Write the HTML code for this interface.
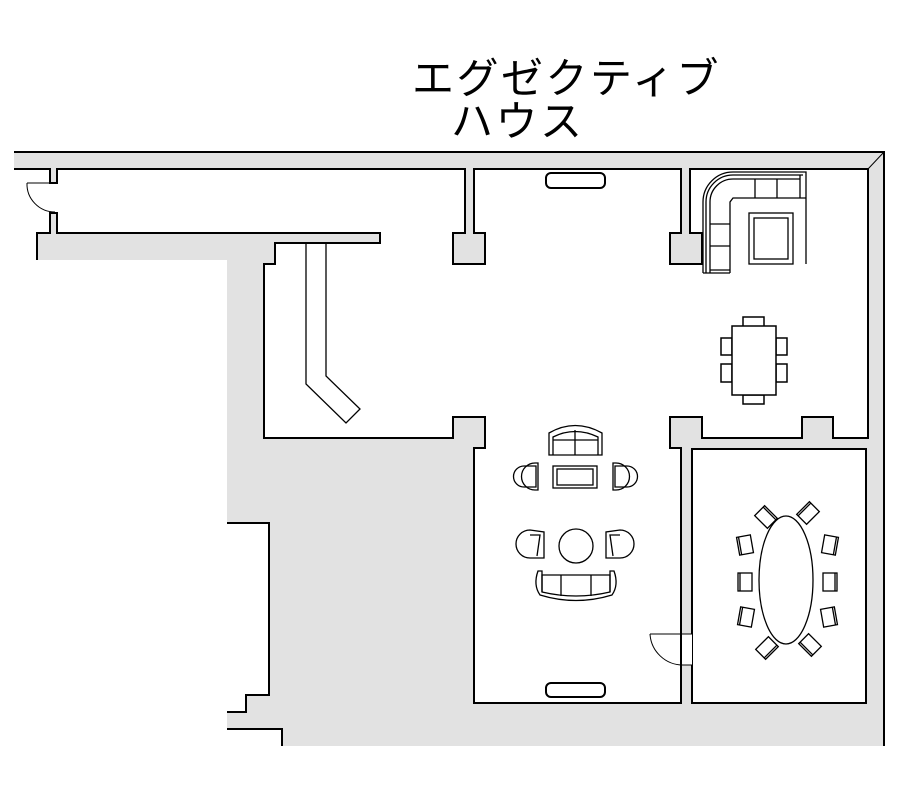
<!DOCTYPE html>
<html><head><meta charset="utf-8"><style>
html,body{margin:0;padding:0;background:#fff;}
svg{display:block;}
</style></head><body>
<svg width="900" height="800" viewBox="0 0 900 800" xmlns="http://www.w3.org/2000/svg">
<text x="412" y="93" font-family="'Liberation Sans','Noto Sans CJK JP',sans-serif" font-size="42" letter-spacing="2.5" fill="#000">エグゼクティブ</text>
<text x="451" y="136" font-family="'Liberation Sans','Noto Sans CJK JP',sans-serif" font-size="42" letter-spacing="2.5" fill="#000">ハウス</text>

<!-- gray building -->
<polygon points="14,152 884,152 884,746 282,746 282,729 227,729 227,260 37,260 37,233 50,233 50,169 14,169" fill="#e2e2e2"/>
<g fill="none" stroke="#000" stroke-width="2">
<polyline points="14,152 884,152 884,746"/>
<line x1="868" y1="169" x2="884" y2="152" stroke-width="1"/>
<polyline points="227,729 282,729 282,746"/>
<polyline points="14,169 50,169 50,183 57,183"/>
<polyline points="57,213 50,213 50,233 37,233 37,260"/>
</g>
<!-- inlet -->
<polygon points="227,523 269,523 269,695 246,695 246,712 227,712" fill="#fff" stroke="none"/>
<polyline points="227,523 269,523 269,695 246,695 246,712 227,712" fill="none" stroke="#000" stroke-width="2"/>

<!-- main space -->
<polygon fill="#fff" stroke="#000" stroke-width="2" stroke-linejoin="miter" points="57,169 465,169 465,233 453,233 453,264 485,264 485,233 474,233 474,169 681,169 681,233 670,233 670,264 702,264 702,233 690,233 690,169 868,169 868,438 833,438 833,417 802,417 802,438 702,438 702,417 670,417 670,448 681,448 681,703 474,703 474,448 485,448 485,417 453,417 453,438 264,438 264,264 275,264 275,243 380,243 380,233 57,233"/>
<!-- left door gap -->
<rect x="49" y="184" width="10" height="28" fill="#fff"/>
<!-- conference room -->
<rect x="692" y="449" width="174" height="254" fill="#fff" stroke="#000" stroke-width="2"/>
<!-- door gap to conference -->
<rect x="682" y="634" width="10" height="31" fill="#fff"/>
<g fill="none" stroke="#000" stroke-width="1">
<line x1="650" y1="634" x2="692" y2="634"/>
<path d="M650,634 A33,33 0 0 0 683,665 L692,665"/>
<!-- left door -->
<path d="M27,183 L50,183 M27,183 A28,28 0 0 0 55,212"/>
<!-- stairs -->
<polyline points="306,243 306,384 346,423 360,409 326,376 326,243" stroke-width="1.3"/>
</g>

<!-- windows -->
<rect x="546" y="173" width="59" height="15" rx="5" fill="#fff" stroke="#000" stroke-width="2"/>
<rect x="546" y="683" width="59" height="14" rx="5" fill="#fff" stroke="#000" stroke-width="2"/>

<!-- corner sofa -->
<g fill="#fff" stroke="#000" stroke-width="1.3">
<path d="M703,273 L703,202 A30,30 0 0 1 733,172 L806,172 L806,264 M730,273 L703,273"/>
<path d="M706,273 L706,202 A27,27 0 0 1 733,175 L803,175" fill="none"/>
<path d="M710,273 L710,202 A23,23 0 0 1 733,179 L800,179" fill="none"/>
<path d="M730,273 L730,202 L733,198 L806,198" fill="none"/>
<path d="M755,179 V198 M777,179 V198 M800,175 V198 M710,224 H730 M710,246 H730 M710,270 H730" fill="none"/>
<rect x="749" y="213" width="44" height="51"/>
<rect x="754" y="218" width="34" height="41"/>
</g>

<!-- dining -->
<g fill="#fff" stroke="#000" stroke-width="1.5">
<rect x="743" y="317" width="21" height="10"/>
<rect x="743" y="395" width="21" height="9"/>
<rect x="721" y="338" width="11" height="17"/>
<rect x="721" y="364" width="11" height="18"/>
<rect x="776" y="338" width="11" height="17"/>
<rect x="776" y="364" width="11" height="18"/>
<rect x="732" y="326" width="44" height="69"/>
</g>

<!-- living furniture -->
<g fill="#fff" stroke="#000" stroke-width="1.3">
<path d="M549,455 V433 Q575,418 602,433 V455 Z"/>
<path d="M553,455 V437 Q575,426 598,437 V455 M553,440 H598 M575,430 V455" fill="none"/>
<rect x="553" y="466" width="44" height="22"/>
<rect x="557" y="469" width="36" height="16"/>
<path d="M535,463 A13,13 0 0 0 535,490 L538,490 V463 Z"/>
<path d="M524,466 A10,10 0 0 0 524,487 M524,466 H536 V487 H524" fill="none"/>
<path d="M616,463 A13,13 0 0 1 616,490 L613,490 V463 Z"/>
<path d="M627,466 A10,10 0 0 1 627,487 M627,466 H615 V487 H627" fill="none"/>
<circle cx="576" cy="546" r="17"/>
<path d="M530,530 A14,14 0 0 0 530,558 L544,558 L544,532 Z"/>
<path d="M530,535 L540,535 L537,556" fill="none"/>
<path d="M620,530 A14,14 0 0 1 620,558 L606,558 L606,532 Z"/>
<path d="M620,535 L610,535 L613,556" fill="none"/>
<path d="M538,571 Q533,585 540,595 Q576,606 612,595 Q619,585 614,571 L610,571 L610,592 Q576,600 542,592 L542,571 Z"/>
<path d="M542,592 V575 H610 V592 M561,575 V596 M591,575 V596" fill="none"/>
</g>

<!-- conference -->
<g fill="#fff" stroke="#000" stroke-width="1.3">
<g transform="translate(745,545) rotate(-10)"><rect x="-7" y="-9" width="14" height="18"/><line x1="-5" y1="-9" x2="-5" y2="9"/></g>
<g transform="translate(745,582)"><rect x="-7" y="-9" width="14" height="18"/><line x1="-5" y1="-9" x2="-5" y2="9"/></g>
<g transform="translate(746,617) rotate(10)"><rect x="-7" y="-9" width="14" height="18"/><line x1="-5" y1="-9" x2="-5" y2="9"/></g>
<g transform="translate(830,545) rotate(10)"><rect x="-7" y="-9" width="14" height="18"/><line x1="5" y1="-9" x2="5" y2="9"/></g>
<g transform="translate(830,582)"><rect x="-7" y="-9" width="14" height="18"/><line x1="5" y1="-9" x2="5" y2="9"/></g>
<g transform="translate(829,617) rotate(-10)"><rect x="-7" y="-9" width="14" height="18"/><line x1="5" y1="-9" x2="5" y2="9"/></g>
<g transform="translate(766,517) rotate(45)"><rect x="-9" y="-7" width="18" height="14"/><line x1="-9" y1="-5" x2="9" y2="-5"/></g>
<g transform="translate(808,513) rotate(-45)"><rect x="-9" y="-7" width="18" height="14"/><line x1="-9" y1="-5" x2="9" y2="-5"/></g>
<g transform="translate(767,648) rotate(-45)"><rect x="-9" y="-7" width="18" height="14"/><line x1="-9" y1="5" x2="9" y2="5"/></g>
<g transform="translate(810,645) rotate(45)"><rect x="-9" y="-7" width="18" height="14"/><line x1="-9" y1="5" x2="9" y2="5"/></g>
<ellipse cx="786" cy="580" rx="27" ry="64"/>
</g>
</svg>
</body></html>
